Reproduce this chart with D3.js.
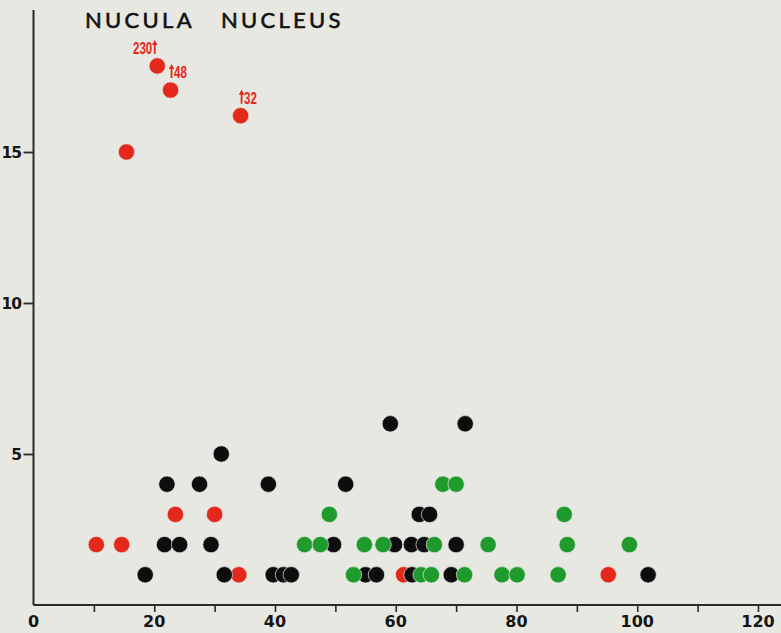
<!DOCTYPE html>
<html>
<head>
<meta charset="utf-8">
<script src="https://cdn.jsdelivr.net/npm/d3@7"></script>
<style>
  html, body { margin: 0; padding: 0; background: #e7e8e2; }
  svg { display: block; }
</style>
</head>
<body>
<svg id="chart" width="781" height="633"></svg>
<script>
// ---- data ----
const title = "NUCULA   NUCLEUS";
const xTickLabels = [0, 20, 40, 60, 80, 100, 120];
const xMinorTicks = [10, 20, 30, 40, 50, 60, 70, 80, 90, 100, 110, 120];
const yTickLabels = [5, 10, 15];

// red series (x, y)
const redX = [15.4, 23.5, 30.0, 10.4, 14.6, 34.0, 61.3, 95.2];
const redY = [15, 3, 3, 2, 2, 1, 1, 1];
// off-scale red points: plotted near the top with their true values
const offX = [20.5, 22.7, 34.3];
const offY = [17.85, 17.05, 16.2];
const offLabel = ["230", "48", "32"];
const offLabelSide = ["left", "right", "right"];

// black series
const blackX = [59.1, 71.5, 31.1, 22.1, 27.5, 38.9, 51.7, 63.9, 65.6,
                21.7, 24.2, 29.4, 49.7, 59.8, 62.6, 64.7, 70.0,
                18.5, 31.6, 39.7, 41.4, 42.7, 55.0, 56.8, 62.7, 69.2, 101.8];
const blackY = [6, 6, 5, 4, 4, 4, 4, 3, 3,
                2, 2, 2, 2, 2, 2, 2, 2,
                1, 1, 1, 1, 1, 1, 1, 1, 1, 1];

// green series
const greenX = [67.8, 70.0, 49.0, 87.9,
                44.9, 47.5, 54.8, 57.9, 66.4, 75.3, 88.4, 98.7,
                53.0, 64.2, 65.9, 71.4, 77.6, 80.1, 86.9];
const greenY = [4, 4, 3, 3,
                2, 2, 2, 2, 2, 2, 2, 2,
                1, 1, 1, 1, 1, 1, 1];

// ---- drawing ----
const bg = "#e7e8e2";
const cRed = "#e4291c", cBlack = "#0d0d0d", cGreen = "#1f9a2c", cAxis = "#2a2a2a";
const svg = d3.select("#chart");
svg.append("rect").attr("width", 781).attr("height", 633).attr("fill", bg);

const x = d3.scaleLinear().domain([0, 120]).range([33.5, 758]);
const y = d3.scaleLinear().domain([0, 15]).range([605, 152]);

// axes
const xAxis = d3.axisBottom(x).tickValues(xMinorTicks).tickSize(7).tickFormat("");
const gx = svg.append("g").attr("transform", `translate(0,${y(0)})`).call(xAxis);
gx.select(".domain").remove();
gx.selectAll("line").attr("stroke", cAxis).attr("stroke-width", 1.6);
svg.append("line").attr("x1", x(0)).attr("x2", 781).attr("y1", y(0)).attr("y2", y(0))
  .attr("stroke", cAxis).attr("stroke-width", 2);
svg.selectAll("text.xl").data(xTickLabels).enter().append("text")
  .attr("class", "xl").attr("x", d => x(d)).attr("y", 627)
  .attr("text-anchor", "middle")
  .attr("font-family", "'DejaVu Sans', sans-serif")
  .attr("font-weight", "bold").attr("font-size", 16).attr("fill", "#161616")
  .text(d => d);

const yAxis = d3.axisLeft(y).tickValues(yTickLabels).tickSize(10).tickFormat("");
const gy = svg.append("g").attr("transform", `translate(${x(0)},0)`).call(yAxis);
gy.select(".domain").remove();
gy.selectAll("line").attr("stroke", cAxis).attr("stroke-width", 1.8);
svg.append("line").attr("x1", x(0)).attr("x2", x(0)).attr("y1", 10).attr("y2", y(0))
  .attr("stroke", cAxis).attr("stroke-width", 2);
svg.selectAll("text.yl").data(yTickLabels).enter().append("text")
  .attr("class", "yl").attr("x", 21).attr("y", d => y(d) + 6)
  .attr("text-anchor", "end")
  .attr("font-family", "'DejaVu Sans', sans-serif")
  .attr("font-weight", "bold").attr("font-size", 15.5).attr("fill", "#161616")
  .attr("letter-spacing", -1)
  .text(d => d);

// title
svg.append("text").attr("x", 85).attr("y", 28)
  .attr("font-family", "'Lato', 'DejaVu Sans', sans-serif")
  .attr("font-weight", "normal")
  .attr("font-size", 22).attr("fill", "#111")
  .attr("stroke", "#111").attr("stroke-width", 0.6)
  .attr("letter-spacing", 3.3)
  .attr("xml:space", "preserve").style("white-space", "pre")
  .text(title);

// points: red underneath, then black, then green
function dots(xs, ys, color) {
  svg.append("g").selectAll("circle").data(xs.map((v, i) => [v, ys[i]])).enter()
    .append("circle")
    .attr("cx", d => x(d[0])).attr("cy", d => y(d[1])).attr("r", 8.2)
    .attr("fill", color).attr("stroke", bg).attr("stroke-width", 0.7);
}
dots(redX.concat(offX), redY.concat(offY), cRed);
dots(blackX, blackY, cBlack);
dots(greenX, greenY, cGreen);

// off-scale labels with upward arrows
const gl = svg.append("g");
offX.forEach((v, i) => {
  const cx = x(v), cy = y(offY[i]);
  const ax = offLabelSide[i] === "left" ? cx - 2.5 : cx + 1;
  const top = cy - 26, bot = cy - 12;
  gl.append("line").attr("x1", ax).attr("x2", ax).attr("y1", top + 3).attr("y2", bot)
    .attr("stroke", cRed).attr("stroke-width", 1.8);
  gl.append("path").attr("d", `M${ax - 2.8},${top + 5} L${ax},${top} L${ax + 2.8},${top + 5} Z`)
    .attr("fill", cRed);
  const t = gl.append("text")
    .attr("y", bot)
    .attr("font-family", "'Liberation Sans Narrow', 'Liberation Sans', Arial, sans-serif")
    .attr("font-weight", "bold").attr("font-size", 16).attr("fill", cRed)
    .attr("lengthAdjust", "spacingAndGlyphs")
    .attr("textLength", offLabel[i].length * 6.4)
    .text(offLabel[i]);
  if (offLabelSide[i] === "left") t.attr("x", ax - 2.5).attr("text-anchor", "end");
  else t.attr("x", ax + 2.5).attr("text-anchor", "start");
});
</script>
</body>
</html>
